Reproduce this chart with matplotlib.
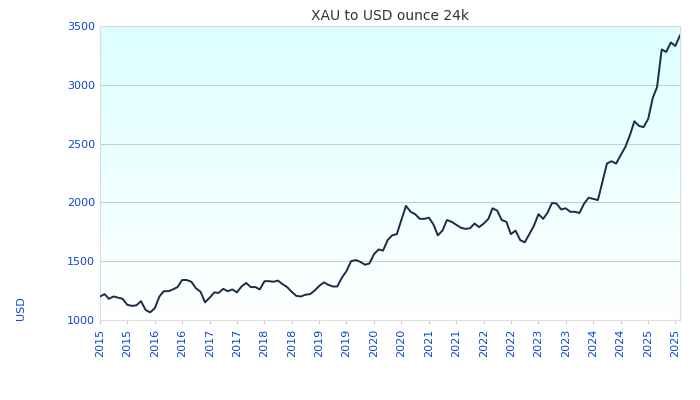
import matplotlib
matplotlib.use("Agg")
import matplotlib.pyplot as plt
import matplotlib.dates as mdates
import numpy as np
import pandas as pd
from matplotlib.colors import LinearSegmentedColormap

start_month = "2015-01-01"
prices = [
    1200,1220,1180,1200,1190,1180,1130,1120,1125,1160,1085,1065,
    1100,1200,1245,1245,1260,1280,1340,1340,1325,1270,1240,1150,
    1190,1235,1230,1265,1245,1260,1235,1285,1315,1280,1280,1260,
    1330,1330,1325,1335,1305,1280,1240,1205,1200,1215,1220,1250,
    1290,1320,1300,1285,1285,1360,1415,1500,1510,1495,1470,1480,
    1560,1600,1590,1680,1720,1730,1850,1970,1920,1900,1860,1860,
    1870,1810,1720,1760,1850,1835,1810,1785,1775,1780,1820,1790,
    1820,1860,1950,1930,1850,1835,1730,1760,1680,1660,1730,1800,
    1900,1860,1910,1995,1990,1940,1950,1920,1920,1910,1990,2040,
    2030,2020,2170,2330,2350,2330,2400,2470,2570,2690,2650,2640,
    2710,2890,2980,3300,3280,3360,3330,3420,
]
y_ticks = [1000, 1500, 2000, 2500, 3000, 3500]
title = "XAU to USD ounce 24k"
blue = "#0a47d1"

dates = pd.date_range(start_month, periods=len(prices), freq="MS")

fig = plt.figure(figsize=(7, 4), dpi=100)
ax = fig.add_axes([100/700, 80/400, 580/700, 294/400])
grad = np.linspace(0, 1, 256).reshape(-1, 1)
cmap = LinearSegmentedColormap.from_list("g", ["#ffffff", "#dcffff"])
ax.imshow(grad, aspect="auto", cmap=cmap, origin="lower",
          extent=[0, 1, 0, 1], transform=ax.transAxes, zorder=0)
ax.plot(dates, prices, color="#1c2b4a", lw=1.4, zorder=3)
ax.set_xlim(pd.Timestamp("2015-01-01"), dates[-1])
ax.set_ylim(1000, 3500)
ax.set_yticks(y_ticks)
ax.grid(axis="y", color="#cccccc", lw=0.8, zorder=1)
ax.xaxis.set_major_locator(mdates.MonthLocator(bymonth=[1, 7]))
ax.xaxis.set_major_formatter(mdates.DateFormatter("%Y"))
plt.setp(ax.get_xticklabels(), rotation=90)
ax.tick_params(colors=blue, labelsize=8, length=0)
ax.tick_params(axis="x", length=3, color="#cccccc")
for s in ax.spines.values():
    s.set_color("#dddddd")
ax.set_ylabel("USD", color=blue, fontsize=8, loc="bottom")
ax.yaxis.set_label_coords(-0.128, 0.0)
ax.set_title(title, color="#333333", fontsize=10, pad=4)
fig.savefig("out.png")
